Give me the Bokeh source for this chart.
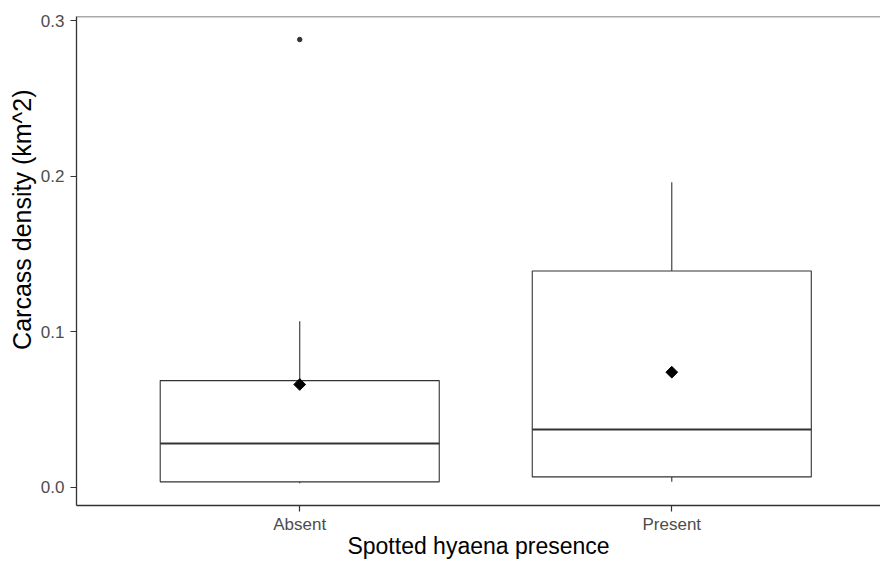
import math
from bokeh.plotting import figure
from bokeh.models import (Range1d, FixedTicker, PrintfTickFormatter, ColumnDataSource,
                          Span, Title)
from bokeh.embed import file_html
from bokeh.resources import INLINE

# ---- data ----
categories = ["Absent", "Present"]
q1 = [0.0034, 0.0066]
median = [0.0281, 0.0371]
q3 = [0.0685, 0.1390]
whisker_low = [0.0025, 0.0034]
whisker_high = [0.1066, 0.1961]
means = [0.0660, 0.0739]
outlier_category = ["Absent"]
outlier_value = [0.2878]
y_ticks = [0.0, 0.1, 0.2, 0.3]

FONT = "Liberation Sans"
BOX_W = 0.75

xs = [i + 1 for i in range(len(categories))]
src = ColumnDataSource(dict(
    x=xs,
    left=[x - BOX_W / 2 for x in xs],
    right=[x + BOX_W / 2 for x in xs],
    q1=q1, med=median, q3=q3, lo=whisker_low, hi=whisker_high, mean=means,
))
out_src = ColumnDataSource(dict(
    x=[categories.index(c) + 1 for c in outlier_category],
    y=outlier_value,
))

y_lo, y_hi = -0.0118, 0.3026

p = figure(width=880, height=561, output_backend="svg", toolbar_location=None,
           x_range=Range1d(0.4, 2.561), y_range=Range1d(y_lo, y_hi),
           min_border_left=76, min_border_top=16, min_border_bottom=56, min_border_right=0)
p.xgrid.visible = False
p.ygrid.visible = False
p.outline_line_color = None
p.background_fill_color = "white"
p.border_fill_color = "white"

LINE = "#333333"
# whiskers
p.segment(x0="x", x1="x", y0="q3", y1="hi", source=src, line_color=LINE, line_width=1.1)
p.segment(x0="x", x1="x", y0="q1", y1="lo", source=src, line_color=LINE, line_width=1.1)
# boxes
p.quad(left="left", right="right", bottom="q1", top="q3", source=src,
       fill_color="white", line_color=LINE, line_width=1.1)
# medians
p.segment(x0="left", x1="right", y0="med", y1="med", source=src, line_color=LINE, line_width=2)
# outliers
p.scatter(x="x", y="y", source=out_src, size=4.5, color=LINE, marker="circle")
# means
p.scatter(x="x", y="mean", source=src, marker="square", size=8.3, angle=math.pi / 4,
          fill_color="black", line_color="black")

# top border
p.add_layout(Span(location=y_hi, dimension="width", line_color="#555555", line_width=1.3))

# axes
for ax in (p.xaxis[0], p.yaxis[0]):
    ax.axis_line_color = LINE
    ax.axis_line_width = 1.3
    ax.major_tick_line_color = LINE
    ax.major_tick_line_width = 1.2
    ax.major_tick_out = 6
    ax.major_tick_in = 0
    ax.minor_tick_line_color = None
    ax.major_label_text_font = FONT
    ax.major_label_text_font_size = "17px"
    ax.major_label_text_color = "#4D4D4D"

p.xaxis[0].ticker = FixedTicker(ticks=xs)
p.xaxis[0].major_label_overrides = {x: c for x, c in zip(xs, categories)}
p.xaxis[0].major_label_standoff = 3
p.xaxis[0].axis_label = "Spotted hyaena presence"
p.xaxis[0].axis_label_standoff = -4
p.xaxis[0].axis_label_text_font = FONT
p.xaxis[0].axis_label_text_font_size = "23px"
p.xaxis[0].axis_label_text_font_style = "normal"
p.xaxis[0].axis_label_text_color = "black"

p.yaxis[0].ticker = FixedTicker(ticks=y_ticks)
p.yaxis[0].formatter = PrintfTickFormatter(format="%.1f")
p.yaxis[0].major_label_standoff = 6

# y-axis title (offset upward like the reference)
p.add_layout(Title(text="Carcass density (km^2)", align="right", offset=73, standoff=4,
                   text_font=FONT, text_font_size="25px", text_font_style="normal",
                   text_color="black"), "left")

open("out.html", "w").write(file_html(p, INLINE))
